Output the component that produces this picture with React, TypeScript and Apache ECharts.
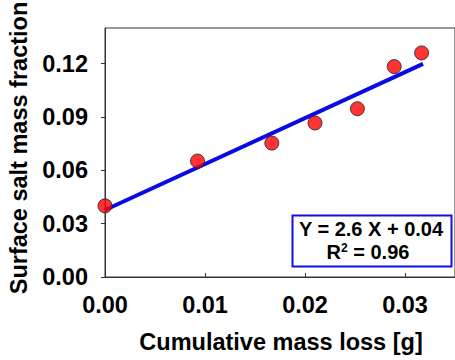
import React, { useEffect, useRef } from "react";
import * as echarts from "echarts";

const massLoss = [0.0, 0.00925, 0.01668, 0.021, 0.02524, 0.02892, 0.03166];
const saltFraction = [0.04, 0.0652, 0.0753, 0.0866, 0.0946, 0.1183, 0.126];
const fitX = [0.0, 0.0318];
const fitY = [0.0377, 0.1198];
const xTicks = [0, 0.01, 0.02, 0.03];
const yTicks = [0, 0.03, 0.06, 0.09, 0.12];
const xTitle = "Cumulative mass loss [g]";
const yTitle = "Surface salt mass fraction";
const eqLine1 = "Y = 2.6 X + 0.04";
const eqR2 = "0.96";

const FONT = "'Liberation Sans', Arial, sans-serif";

export default function App() {
  const ref = useRef<HTMLDivElement>(null);
  useEffect(() => {
    if (!ref.current) return;
    const chart = echarts.init(ref.current, null, { renderer: "svg" });
    chart.setOption({
      animation: false,
      backgroundColor: "#ffffff",
      grid: {
        left: 105,
        top: 28,
        right: -5,
        bottom: 83,
        show: true,
        borderColor: "#333",
        borderWidth: 1,
        backgroundColor: "transparent",
      },
      xAxis: {
        type: "value",
        min: 0,
        max: 0.035,
        interval: 0.01,
        splitLine: { show: false },
        axisLine: { show: true, lineStyle: { color: "#333", width: 1 } },
        axisTick: { show: true, inside: true, length: 4, customValues: xTicks, lineStyle: { color: "#333" } },
        axisLabel: {
          customValues: xTicks,
          formatter: (v: number) => v.toFixed(2),
          fontSize: 23.5,
          fontWeight: "bold",
          fontFamily: FONT,
          color: "#000",
          margin: 16,
        },
      },
      yAxis: {
        type: "value",
        min: 0,
        max: 0.14,
        interval: 0.03,
        splitLine: { show: false },
        axisLine: { show: true, lineStyle: { color: "#333", width: 1 } },
        axisTick: { show: true, inside: false, length: 4, customValues: yTicks, lineStyle: { color: "#333" } },
        axisLabel: {
          customValues: yTicks,
          formatter: (v: number) => v.toFixed(2),
          fontSize: 23.5,
          fontWeight: "bold",
          fontFamily: FONT,
          color: "#000",
          margin: 17,
        },
      },
      series: [
        {
          type: "line",
          data: fitX.map((x, i) => [x, fitY[i]]),
          showSymbol: false,
          lineStyle: { color: "#0a0ae6", width: 4 },
          z: 2,
        },
        {
          type: "scatter",
          data: massLoss.map((x, i) => [x, saltFraction[i]]),
          symbolSize: 14,
          itemStyle: { color: "#ff0000", borderColor: "#222", borderWidth: 1 },
          z: 3,
        },
      ],
      graphic: [
        {
          type: "text",
          x: 19,
          y: 148,
          rotation: Math.PI / 2,
          style: {
            text: yTitle,
            fontSize: 23.5,
            fontWeight: "bold",
            fontFamily: FONT,
            fill: "#000",
            align: "center",
            verticalAlign: "middle",
          },
        },
        {
          type: "text",
          x: 281,
          y: 342,
          style: {
            text: xTitle,
            fontSize: 23.5,
            fontWeight: "bold",
            fontFamily: FONT,
            fill: "#000",
            align: "center",
            verticalAlign: "middle",
          },
        },
        {
          type: "rect",
          shape: { x: 292.5, y: 215.5, width: 159, height: 51 },
          style: { fill: "#fff", stroke: "#1010e0", lineWidth: 2 },
          z: 10,
        },
        {
          type: "text",
          x: 371,
          y: 229,
          z: 11,
          style: {
            text: eqLine1,
            fontSize: 20,
            fontWeight: "bold",
            fontFamily: FONT,
            fill: "#000",
            align: "center",
            verticalAlign: "middle",
          },
        },
        {
          type: "text",
          x: 368,
          y: 252,
          z: 11,
          style: {
            text: "{a|R}{s|2}{a| = " + eqR2 + "}",
            align: "center",
            verticalAlign: "middle",
            rich: {
              a: { fontSize: 20, fontWeight: "bold", fontFamily: FONT, fill: "#000", verticalAlign: "bottom" },
              s: { fontSize: 12, fontWeight: "bold", fontFamily: FONT, fill: "#000", verticalAlign: "top", padding: [0, 0, 8, 0] },
            },
          },
        },
      ],
    });
    return () => chart.dispose();
  }, []);
  return <div ref={ref} style={{ width: 455, height: 360, position: "absolute", left: 0, top: 0 }} />;
}
